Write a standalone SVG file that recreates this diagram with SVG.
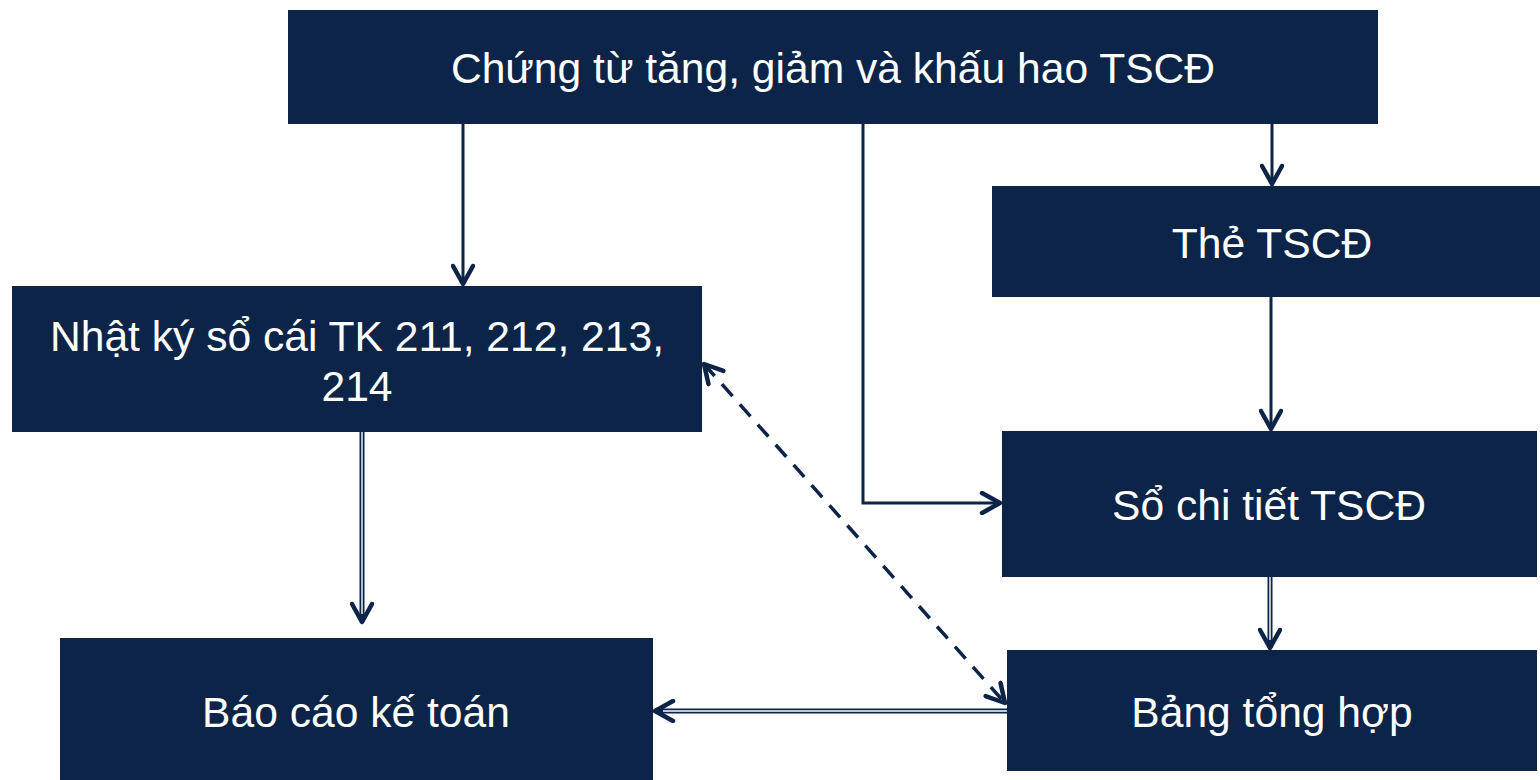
<svg xmlns="http://www.w3.org/2000/svg" width="1540" height="780" viewBox="0 0 1540 780">
  <style>
    .box { fill: #0B2447; }
    .label { fill: #ffffff; font-family: "Liberation Sans", Arial, sans-serif; font-size: 42.6px; text-anchor: middle; }
    .line { fill: none; stroke: #0B2447; stroke-width: 3; }
    .dbl { fill: none; stroke: #0B2447; stroke-width: 5; }
    .dbl-in { fill: none; stroke: #ffffff; stroke-width: 1.4; }
    .dash { fill: none; stroke: #0B2447; stroke-width: 3.5; stroke-dasharray: 16 11; }
  </style>
  <defs>
    <marker id="head" viewBox="-22 -12 26 24" refX="0" refY="0" markerWidth="26" markerHeight="24" markerUnits="userSpaceOnUse" orient="auto-start-reverse">
      <path d="M-18,-10 L0,0 L-18,10" fill="none" stroke="#0B2447" stroke-width="4.5" stroke-linecap="round" stroke-linejoin="round"/>
    </marker>
  </defs>

  <g id="connectors">
    <path class="line" d="M463,124 V284" marker-end="url(#head)"/>
    <path class="line" d="M1272,124 V184" marker-end="url(#head)"/>
    <path class="line" d="M863,124 V503 H1000" marker-end="url(#head)"/>
    <path class="line" d="M1271,297 V429" marker-end="url(#head)"/>
    <path class="dbl" d="M362,432 V622" marker-end="url(#head)"/>
    <path class="dbl-in" d="M362,432 V614"/>
    <path class="dbl" d="M1270,577 V648" marker-end="url(#head)"/>
    <path class="dbl-in" d="M1270,577 V640"/>
    <path class="dbl" d="M1007,711 H655" marker-end="url(#head)"/>
    <path class="dbl-in" d="M1007,711 H663"/>
    <path class="dash" d="M704,364 L1005,703" marker-start="url(#head)" marker-end="url(#head)"/>
  </g>

  <g id="node-chung-tu">
    <rect class="box" x="288" y="10" width="1090" height="114"/>
    <text class="label" x="833" y="83">Chứng từ tăng, giảm và khấu hao TSCĐ</text>
  </g>
  <g id="node-the">
    <rect class="box" x="992" y="186" width="548" height="111"/>
    <text class="label" x="1272" y="258">Thẻ TSCĐ</text>
  </g>
  <g id="node-nhat-ky">
    <rect class="box" x="12" y="286" width="690" height="146"/>
    <text class="label" x="357" y="351">Nhật ký sổ cái TK 211, 212, 213,</text>
    <text class="label" x="357" y="401">214</text>
  </g>
  <g id="node-so-chi-tiet">
    <rect class="box" x="1002" y="431" width="535" height="146"/>
    <text class="label" x="1269" y="520">Sổ chi tiết TSCĐ</text>
  </g>
  <g id="node-bao-cao">
    <rect class="box" x="60" y="638" width="593" height="142"/>
    <text class="label" x="356" y="727">Báo cáo kế toán</text>
  </g>
  <g id="node-bang-tong-hop">
    <rect class="box" x="1007" y="650" width="530" height="121"/>
    <text class="label" x="1272" y="727">Bảng tổng hợp</text>
  </g>
</svg>
